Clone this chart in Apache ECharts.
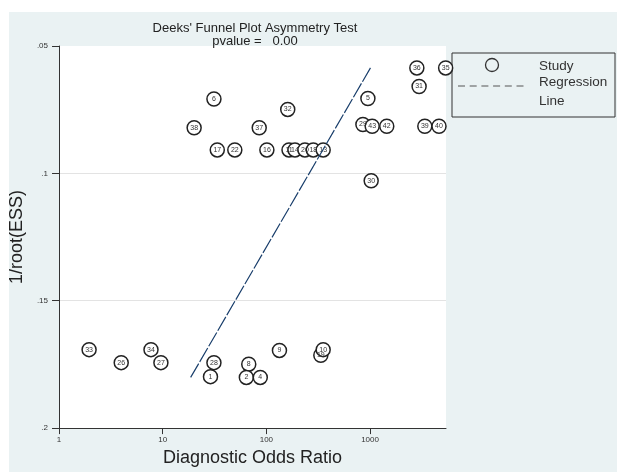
<!DOCTYPE html>
<html>
<head>
<meta charset="utf-8">
<script src="https://cdn.jsdelivr.net/npm/echarts@6/dist/echarts.min.js"></script>
<style>
  html, body { margin: 0; padding: 0; background: #ffffff; }
  #chart { width: 617px; height: 472px; }
</style>
</head>
<body>
<div id="chart"></div>
<script>
// Study labels, diagnostic odds ratios and 1/sqrt(effective sample size)
const studyIds = ['33', '26', '34', '27', '28', '1', '8', '2', '4', '9', '19', '10',
  '6', '32', '38', '37', '17', '22', '16', '11', '14', '20', '18', '13',
  '36', '35', '31', '5', '29', '43', '42', '39', '40', '30'];
const diagnosticOR = [1.95, 3.98, 7.71, 9.61, 31.2, 28.9, 67.6, 64.1, 87.3, 133.7, 335, 353,
  31.2, 160.7, 20.1, 85.3, 33.6, 49.6, 101.1, 165.3, 188.6, 235.3, 283.3, 353,
  2826, 5357, 2972, 953, 853, 1048, 1449, 3373, 4624, 1025];
const invRootEss = [0.1692, 0.1743, 0.1692, 0.1743, 0.1743, 0.1798, 0.1749, 0.1801, 0.1801, 0.1695, 0.1714, 0.1692,
  0.0708, 0.0749, 0.0821, 0.0821, 0.0908, 0.0908, 0.0908, 0.0908, 0.0908, 0.0908, 0.0908, 0.0908,
  0.0586, 0.0586, 0.0659, 0.0706, 0.0808, 0.0815, 0.0815, 0.0815, 0.0815, 0.1029];

// Fitted regression line end points
const regressionOR = [18.6, 1009];
const regressionInvRootEss = [0.1801, 0.0586];

// Axis ticks
const xTickValues = [1, 10, 100, 1000];
const yTickValues = [0.05, 0.1, 0.15, 0.2];

const studyPoints = diagnosticOR.map((v, i) => [v, invRootEss[i], studyIds[i]]);
const regressionPoints = regressionOR.map((v, i) => [v, regressionInvRootEss[i]]);

const chart = echarts.init(document.getElementById('chart'), null, { renderer: 'canvas' });

const textColor = '#333333';
const font = 'Liberation Sans, Arial, sans-serif';

chart.setOption({
  backgroundColor: '#eaf2f3',
  animation: false,
  title: {
    text: "Deeks' Funnel Plot Asymmetry Test\npvalue =   0.00",
    left: 250,
    top: 17,
    textAlign: 'center',
    textStyle: { fontFamily: font, fontSize: 13, fontWeight: 'normal', color: '#222222', lineHeight: 13 }
  },
  grid: {
    show: true,
    left: 55, top: 46, width: 391, height: 389,
    backgroundColor: '#ffffff',
    borderWidth: 0,
    containLabel: false
  },
  xAxis: {
    type: 'log',
    logBase: 10,
    min: 1,
    max: 5400,
    name: 'Diagnostic Odds Ratio',
    nameLocation: 'middle',
    nameGap: 15,
    nameTextStyle: { fontFamily: font, fontSize: 18, color: '#222222' },
    axisLine: { show: true, onZero: false, lineStyle: { color: textColor, width: 1 } },
    axisTick: { show: true, length: 6, customValues: xTickValues, lineStyle: { color: textColor } },
    minorTick: { show: false },
    axisLabel: {
      customValues: xTickValues,
      fontFamily: font, fontSize: 8, color: textColor, margin: 8,
      formatter: v => String(Math.round(v))
    },
    splitLine: { show: false }
  },
  yAxis: {
    type: 'value',
    inverse: true,
    min: 0.05,
    max: 0.2,
    interval: 0.05,
    name: '1/root(ESS)',
    nameLocation: 'middle',
    nameGap: 19,
    nameRotate: 90,
    nameTextStyle: { fontFamily: font, fontSize: 18, color: '#222222' },
    axisLine: { show: true, onZero: false, lineStyle: { color: textColor, width: 1 } },
    axisTick: { show: true, length: 7, lineStyle: { color: textColor } },
    axisLabel: {
      fontFamily: font, fontSize: 8, color: textColor, margin: 11,
      formatter: v => Number(v).toFixed(2).replace(/0+$/, '').replace(/^0/, '')
    },
    splitLine: {
      show: true,
      lineStyle: { color: ['rgba(0,0,0,0)', '#e3e3e3', '#e3e3e3', 'rgba(0,0,0,0)'], width: 1 }
    }
  },
  series: [
    {
      name: 'Study',
      type: 'scatter',
      data: studyPoints,
      symbol: 'circle',
      symbolSize: 14,
      itemStyle: { color: '#ffffff', borderColor: '#222222', borderWidth: 1.5, opacity: 1 },
      label: {
        show: true,
        position: 'inside',
        formatter: p => p.data[2],
        fontFamily: font,
        fontSize: 7,
        color: '#333333'
      },
      emphasis: { disabled: true },
      z: 2
    },
    {
      name: 'Regression Line',
      type: 'line',
      data: regressionPoints,
      showSymbol: false,
      symbol: 'none',
      lineStyle: { color: '#1a3f6c', width: 1.2, type: [16, 2] },
      emphasis: { disabled: true },
      z: 3
    }
  ],
  graphic: [
    // white margin strips along the top and left edges
    { type: 'rect', left: 0, top: 0, shape: { width: 617, height: 12 }, style: { fill: '#ffffff' }, silent: true },
    { type: 'rect', left: 0, top: 0, shape: { width: 9, height: 472 }, style: { fill: '#ffffff' }, silent: true },
    // legend box
    {
      type: 'group',
      x: 452, y: 53,
      children: [
        { type: 'rect', shape: { x: 0, y: 0, width: 163, height: 64 },
          style: { fill: 'none', stroke: '#333333', lineWidth: 1 } },
        { type: 'circle', shape: { cx: 40, cy: 12, r: 6.5 },
          style: { fill: 'none', stroke: '#333333', lineWidth: 1.3 } },
        { type: 'text', x: 87, y: 13,
          style: { text: 'Study', fontFamily: font, fontSize: 13.5, fill: '#333333', verticalAlign: 'middle' } },
        { type: 'line', shape: { x1: 6, y1: 33, x2: 76, y2: 33 },
          style: { stroke: '#555555', lineWidth: 1, lineDash: [7, 4.7] } },
        { type: 'text', x: 87, y: 29,
          style: { text: 'Regression', fontFamily: font, fontSize: 13.5, fill: '#333333', verticalAlign: 'middle' } },
        { type: 'text', x: 87, y: 48,
          style: { text: 'Line', fontFamily: font, fontSize: 13.5, fill: '#333333', verticalAlign: 'middle' } }
      ]
    }
  ]
});
</script>
</body>
</html>
